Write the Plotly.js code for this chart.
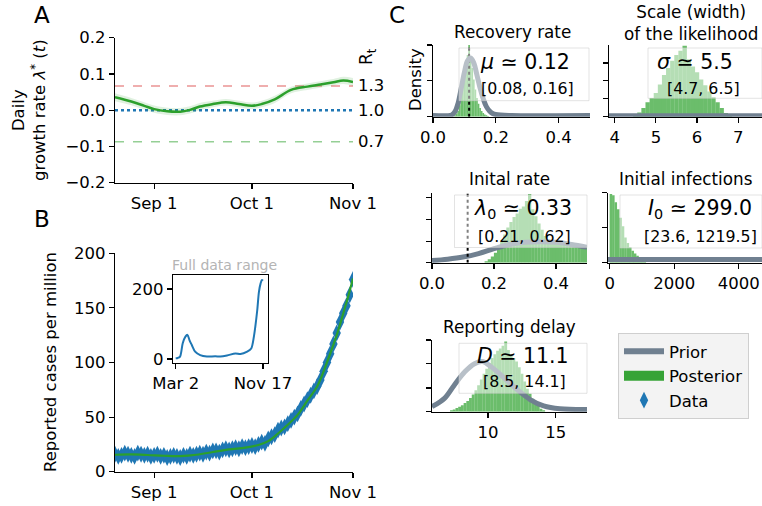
<!DOCTYPE html>
<html><head><meta charset="utf-8">
<script src="https://cdn.plot.ly/plotly-3.0.1.min.js"></script>
<style>html,body{margin:0;padding:0;background:#fff}#chart{width:762px;height:506px}</style>
</head><body><div id="chart"></div>
<script>
const W = 762, H = 506;
const px = v => v / W;
const py = v => 1 - v / H;

// ---------- Panel A: daily growth rate ----------
const aDates = ['2020-08-20','2020-08-25','2020-08-29','2020-09-01','2020-09-05','2020-09-09','2020-09-12','2020-09-15','2020-09-19','2020-09-23','2020-09-27','2020-10-01','2020-10-04','2020-10-08','2020-10-13','2020-10-18','2020-10-22','2020-10-26','2020-10-29','2020-11-01'];
const aRate = [0.036,0.024,0.012,0.003,-0.003,-0.004,0.001,0.010,0.017,0.022,0.017,0.012,0.017,0.030,0.056,0.065,0.071,0.077,0.082,0.078];
const aHigh = [0.047,0.034,0.022,0.013,0.007,0.006,0.011,0.020,0.026,0.031,0.026,0.021,0.026,0.040,0.065,0.074,0.080,0.086,0.092,0.089];
const aLow  = [0.025,0.014,0.002,-0.007,-0.013,-0.014,-0.009,0.000,0.008,0.013,0.008,0.003,0.008,0.020,0.047,0.056,0.062,0.068,0.072,0.067];
const rtLevels = [0.067, 0.0, -0.087];
const rtLabels = ['1.3', '1.0', '0.7'];
const aRange = ['2020-08-20', '2020-11-01'];
const mainTickVals = ['2020-09-01', '2020-10-01', '2020-11-01'];
const mainTickText = ['Sep 1', 'Oct 1', 'Nov 1'];

// ---------- Panel B: reported cases per million ----------
const bStart = '2020-08-20';
const bCases = [16,14,15,17,16,15,14, 17,16,15,16,14,15,16, 14,15,13,14,15,14,13, 15,14,16,15,16,17,16,
                18,17,19,19,18,20,21, 20,21,22,21,23,22,23, 24,23,25,27,26,30,32, 34,38,40,41,44,47,50,
                53,58,62,66,70,74,78, 84,92,100,108,117,127,137, 145,152,162,176];
const bModelDates = ['2020-08-20','2020-08-25','2020-08-30','2020-09-04','2020-09-09','2020-09-14','2020-09-19','2020-09-24','2020-09-29','2020-10-03','2020-10-06','2020-10-09','2020-10-12','2020-10-15','2020-10-18','2020-10-21','2020-10-24','2020-10-27','2020-10-30','2020-11-01'];
const bModel = [15.5,15.8,15.3,14.6,14.3,15.5,18,20.5,22,24.5,28,35,43,52,65,78,100,125,155,177];

// inset: full data range
const insetDates = ['2020-03-02','2020-03-08','2020-03-15','2020-03-23','2020-03-31','2020-04-06','2020-04-12','2020-04-19','2020-04-29','2020-05-14','2020-06-03','2020-06-28','2020-07-13','2020-08-02','2020-08-27','2020-09-11','2020-10-01','2020-10-13','2020-10-21','2020-10-31','2020-11-05','2020-11-10','2020-11-14','2020-11-17'];
const insetCases = [2,3,7,45,64,69,54,40,21,11,7,8,7,10,16,14,21,30,64,140,192,216,226,224];

// ---------- Panel C: posteriors (histograms, relative density) and priors ----------
const recHistX = [0.070,0.075,0.080,0.085,0.090,0.095,0.100,0.105,0.110,0.115,0.120,0.125,0.130,0.135,0.140,0.145,0.150,0.155,0.160,0.165,0.170,0.175];
const recHistY = [0.02,0.04,0.08,0.16,0.30,0.48,0.62,0.74,0.86,1.00,0.80,0.68,0.52,0.38,0.26,0.18,0.12,0.08,0.05,0.03,0.02,0.01];
const recPriorX = [0,0.05,0.06,0.07,0.08,0.09,0.10,0.11,0.12,0.13,0.14,0.15,0.16,0.17,0.18,0.19,0.20,0.25,0.5];
const recPriorY = [0.015,0.015,0.025,0.07,0.19,0.40,0.62,0.78,0.82,0.75,0.58,0.40,0.25,0.14,0.08,0.045,0.03,0.017,0.015];
const muLineX = [0.115, 0.115];

const sigHistX = [4.5,4.6,4.7,4.8,4.9,5.0,5.1,5.2,5.3,5.4,5.5,5.6,5.7,5.8,5.9,6.0,6.1,6.2,6.3,6.4,6.5,6.6,6.7,6.8];
const sigHistY = [0.02,0.06,0.12,0.20,0.26,0.33,0.45,0.58,0.68,0.78,0.86,0.92,0.99,0.80,0.70,0.62,0.52,0.44,0.35,0.27,0.20,0.12,0.05,0.02];
const sigPriorX = [3.5, 8];
const sigPriorY = [0.012, 0.012];

const lamHistX = [0.175,0.185,0.195,0.205,0.215,0.225,0.235,0.245,0.255,0.265,0.275,0.285,0.295,0.305,0.315,0.325,0.335,0.345,0.355,0.365,0.375,0.385,0.395,0.405,0.415,0.425,0.435,0.445,0.455,0.465,0.475,0.485,0.495];
const lamHistY = [0.02,0.05,0.09,0.14,0.21,0.30,0.40,0.50,0.58,0.65,0.70,0.77,0.80,0.88,0.98,0.76,0.66,0.56,0.47,0.38,0.33,0.31,0.30,0.29,0.29,0.28,0.28,0.27,0.27,0.26,0.26,0.25,0.25];
const lamPriorX = [0,0.05,0.1,0.15,0.2,0.25,0.3,0.35,0.4,0.45,0.5];
const lamPriorY = [0.03,0.05,0.08,0.13,0.20,0.26,0.29,0.30,0.29,0.26,0.22];

const infHistX = [37.5,112.5,187.5,262.5,337.5,412.5,487.5,562.5,637.5,712.5,787.5,862.5,937.5,1012.5,1087.5];
const infHistY = [0.98,0.96,0.86,0.76,0.64,0.52,0.36,0.28,0.22,0.17,0.13,0.10,0.07,0.04,0.02];
const infPriorX = [-100, 5000];
const infPriorY = [0.045, 0.045];

const delHistX = [7.3,7.5,7.7,7.9,8.1,8.3,8.5,8.7,8.9,9.1,9.3,9.5,9.7,9.9,10.1,10.3,10.5,10.7,10.9,11.1,11.3,11.5,11.7,11.9,12.1,12.3,12.5,12.7,12.9,13.1,13.3,13.5,13.7,13.9,14.1];
const delHistY = [0.02,0.03,0.05,0.07,0.09,0.12,0.15,0.19,0.24,0.30,0.37,0.45,0.53,0.60,0.68,0.75,0.80,0.85,0.88,0.92,0.98,0.86,0.80,0.75,0.70,0.62,0.53,0.42,0.32,0.25,0.18,0.12,0.08,0.04,0.02];
const delPriorX = [5.86,6.8,7.5,8.3,9.0,9.6,10.2,11.2,12.2,13.1,14.1,15.3,17.3];
const delPriorY = [0.07,0.19,0.37,0.56,0.67,0.70,0.63,0.47,0.30,0.17,0.08,0.04,0.03];

const statMain = ['<i>μ</i> ≃ 0.12', '<i>σ</i> ≃ 5.5', '<i>λ</i><sub>0</sub> ≃ 0.33', '<i>I</i><sub>0</sub> ≃ 299.0', '<i>D</i> ≃ 11.1'];
const statCI = ['[0.08, 0.16]', '[4.7, 6.5]', '[0.21, 0.62]', '[23.6, 1219.5]', '[8.5, 14.1]'];
const cTitles = ['Recovery rate', 'Scale (width)<br>of the likelihood', 'Inital rate', 'Initial infections', 'Reporting delay'];

// ---------- styles ----------
const GREEN = '#2ca02c', BLUE = '#1f77b4', PRIOR = '#708090';
const HISTC = '#6bbd6b';
const FONT = 'DejaVu Sans';
const TF = 16.5;

// daily dates for panel B
const bDates = [];
{
  const t0 = Date.parse(bStart + 'T00:00:00Z');
  for (let i = 0; i < bCases.length; i++) {
    bDates.push(new Date(t0 + i * 86400000).toISOString().slice(0, 10));
  }
}

const traces = [];
// Panel A
rtLevels.forEach((lv, i) => {
  const col = i === 0 ? 'rgba(214,39,40,0.5)' : (i === 1 ? BLUE : 'rgba(44,160,44,0.5)');
  traces.push({type:'scatter', mode:'lines', x:aRange, y:[lv, lv], xaxis:'x', yaxis:'y',
    line:{color:col, width: i === 1 ? 2.6 : 1.5, dash: i === 1 ? 'dot' : 'dash'}, showlegend:false, hoverinfo:'skip'});
});
traces.push({type:'scatter', mode:'lines', x:aDates, y:aHigh, xaxis:'x', yaxis:'y', line:{width:0, shape:'spline'}, showlegend:false, hoverinfo:'skip'});
traces.push({type:'scatter', mode:'lines', x:aDates, y:aLow, xaxis:'x', yaxis:'y', line:{width:0, shape:'spline'}, fill:'tonexty', fillcolor:'rgba(44,160,44,0.15)', showlegend:false, hoverinfo:'skip'});
traces.push({type:'scatter', mode:'lines', x:aDates, y:aRate, xaxis:'x', yaxis:'y', line:{color:GREEN, width:2.5, shape:'spline'}, showlegend:false});

// Panel B
traces.push({type:'scatter', mode:'markers', name:'Data', legendrank:3, x:bDates, y:bCases, xaxis:'x2', yaxis:'y2',
  marker:{symbol:'diamond-tall', size:12, color:BLUE, line:{width:0}}, showlegend:true});
traces.push({type:'scatter', mode:'lines', x:bModelDates, y:bModel, xaxis:'x2', yaxis:'y2', line:{color:GREEN, width:2.2, shape:'spline'}, showlegend:false});
// inset
traces.push({type:'scatter', mode:'lines', x:insetDates, y:insetCases, xaxis:'x3', yaxis:'y3', line:{color:BLUE, width:2, shape:'spline', smoothing:0.8}, showlegend:false});

// Panel C (bars slightly overlap to avoid hairline gaps)
const hist = (x, y, w, n) => ({type:'bar', x:x, y:y, width:w * 1.06, xaxis:'x'+n, yaxis:'y'+n, marker:{color:HISTC, line:{width:0}}, showlegend:false, hoverinfo:'skip'});
const prior = (x, y, n, sp) => ({type:'scatter', mode:'lines', x:x, y:y, xaxis:'x'+n, yaxis:'y'+n, line:{color:PRIOR, width:5, shape: sp ? 'spline' : 'linear'}, showlegend:false, hoverinfo:'skip'});
const dotted = n => ({type:'scatter', mode:'lines', x:muLineX, y:[0, 1], xaxis:'x'+n, yaxis:'y'+n, line:{color:'#000', width:2, dash:'dot'}, showlegend:false, hoverinfo:'skip'});

traces.push(hist(recHistX, recHistY, 0.005, 4));
traces.push(dotted(4));
traces.push(prior(recPriorX, recPriorY, 4, true));
traces.push(hist(sigHistX, sigHistY, 0.1, 5));
traces.push(prior(sigPriorX, sigPriorY, 5, false));
traces.push(hist(lamHistX, lamHistY, 0.01, 6));
traces.push(prior(lamPriorX, lamPriorY, 6, true));
traces.push(dotted(6));
traces.push(hist(infHistX, infHistY, 75, 7));
traces.push(prior(infPriorX, infPriorY, 7, false));
traces.push(hist(delHistX, delHistY, 0.2, 8));
traces.push(prior(delPriorX, delPriorY, 8, true));

// legend-only entries (placed outside visible range)
traces.push({type:'scatter', mode:'lines', name:'Prior', legendrank:1, x:[-2, -1.5], y:[0.5, 0.5], xaxis:'x4', yaxis:'y4', line:{color:PRIOR, width:6}, showlegend:true});
traces.push({type:'scatter', mode:'lines', name:'Posterior', legendrank:2, x:[-2, -1.5], y:[0.5, 0.5], xaxis:'x4', yaxis:'y4', line:{color:'#36a336', width:12}, showlegend:true});

// ---------- axes ----------
const baseAx = {showline:true, linecolor:'#000', linewidth:1.2, ticks:'outside', ticklen:5, tickwidth:1.2, tickcolor:'#000',
  showgrid:false, zeroline:false, tickfont:{size:TF, color:'#000', family:FONT}, fixedrange:true};
const ax = o => Object.assign({}, baseAx, o);

const layout = {
  width: W, height: H, autosize:false,
  margin:{l:0, r:0, t:0, b:0},
  paper_bgcolor:'#fff', plot_bgcolor:'rgba(0,0,0,0)',
  font:{family:FONT, color:'#000', size:TF},
  barmode:'overlay',
  showlegend:true,
  legend:{x:px(618), y:py(333), xanchor:'left', yanchor:'top', bgcolor:'rgba(242,242,242,0.95)', bordercolor:'#cfcfcf', borderwidth:1,
    font:{size:16.5, family:FONT, color:'#000'}, itemwidth:40, traceorder:'normal', tracegroupgap:0},
  // A
  xaxis: ax({domain:[px(115), px(353)], type:'date', range:aRange, tickvals:mainTickVals, ticktext:mainTickText, anchor:'y'}),
  yaxis: ax({domain:[py(182.7), py(37.7)], range:[-0.2, 0.2], tickvals:[-0.2,-0.1,0,0.1,0.2], ticktext:['−0.2','−0.1','0.0','0.1','0.2'], anchor:'x'}),
  // B
  xaxis2: ax({domain:[px(115), px(353)], type:'date', range:aRange, tickvals:mainTickVals, ticktext:mainTickText, anchor:'y2'}),
  yaxis2: ax({domain:[py(471.7), py(253.3)], range:[0, 200], tickvals:[0,50,100,150,200], anchor:'x2'}),
  // inset
  xaxis3: ax({domain:[px(173), px(268)], type:'date', range:['2020-02-23','2020-12-02'], tickvals:['2020-03-02','2020-11-17'], ticktext:['Mar 2','Nov 17'], anchor:'y3', mirror:true}),
  yaxis3: ax({domain:[py(363), py(275)], range:[-11.4, 240], tickvals:[0, 200], anchor:'x3', mirror:true}),
  // C1 recovery
  xaxis4: ax({domain:[px(433), px(590)], range:[0, 0.5], tickvals:[0,0.2,0.4], ticktext:['0.0','0.2','0.4'], anchor:'y4'}),
  yaxis4: ax({domain:[py(116.7), py(45)], range:[0, 1], tickvals:[0,0.5,1], showticklabels:false, anchor:'x4'}),
  // C2 sigma
  xaxis5: ax({domain:[px(609), 1], range:[3.86, 7.58], tickvals:[4,5,6,7], anchor:'y5'}),
  yaxis5: ax({domain:[py(116.7), py(45)], range:[0, 1], tickvals:[0,0.25,0.5,0.75], showticklabels:false, anchor:'x5'}),
  // C3 lambda0
  xaxis6: ax({domain:[px(432), px(587)], range:[0, 0.5], tickvals:[0,0.2,0.4], ticktext:['0.0','0.2','0.4'], anchor:'y6'}),
  yaxis6: ax({domain:[py(262.7), py(192.5)], range:[0, 1], tickvals:[0,0.3,0.62,0.93], showticklabels:false, anchor:'x6'}),
  // C4 I0
  xaxis7: ax({domain:[px(608), 1], range:[-53, 4722], tickvals:[0,2000,4000], anchor:'y7'}),
  yaxis7: ax({domain:[py(262.7), py(192.5)], range:[0, 1], tickvals:[0,0.5,1], showticklabels:false, anchor:'x7'}),
  // C5 delay
  xaxis8: ax({domain:[px(432), px(587)], range:[5.86, 17.3], tickvals:[10,15], anchor:'y8'}),
  yaxis8: ax({domain:[py(411.7), py(340)], range:[0, 1], tickvals:[0,0.33,0.67,1], showticklabels:false, anchor:'x8'}),
  shapes: [],
  annotations: []
};

// semi-transparent text boxes over the histograms
const boxes = [[459,48,589,100.7],[648,48,762,98.3],[454.5,195,587,247.5],[620,195,762,248],[459,343.3,587,393.3]];
boxes.forEach(b => layout.shapes.push({type:'rect', xref:'paper', yref:'paper', x0:px(b[0]), x1:px(b[2]), y0:py(b[3]), y1:py(b[1]),
  fillcolor:'rgba(255,255,255,0.5)', line:{color:'rgba(200,200,200,0.5)', width:1}, layer:'above'}));

const ann = (x, y, text, size, extra) => Object.assign({xref:'paper', yref:'paper', x:px(x), y:py(y), text:text, showarrow:false,
  xanchor:'center', yanchor:'middle', font:{size:size, family:FONT, color:'#000'}}, extra || {});

// panel letters
layout.annotations.push(ann(42, 15, 'A', 23));
layout.annotations.push(ann(42, 219, 'B', 23));
layout.annotations.push(ann(397, 15, 'C', 23));
// axis titles
layout.annotations.push(ann(29, 110, 'Daily<br>growth rate <i>λ</i><sup>*</sup> (<i>t</i>)', TF, {textangle:-90}));
layout.annotations.push(ann(50, 362, 'Reported cases per million', TF, {textangle:-90}));
layout.annotations.push(ann(416, 80, 'Density', TF, {textangle:-90}));
// Rt labels
rtLevels.forEach((lv, i) => layout.annotations.push({xref:'paper', yref:'y', x:px(356), y:lv, text:rtLabels[i], showarrow:false,
  xanchor:'left', yanchor:'middle', font:{size:TF, family:FONT, color:'#000'}}));
layout.annotations.push(ann(367, 57, 'R<sub>t</sub>', 17, {textangle:-90}));
// inset title
layout.annotations.push(ann(224, 265, 'Full data range', 14, {font:{size:14, family:FONT, color:'#b4b4b4'}}));
// C titles
const titlePos = [[512, 32], [691, 23], [509, 179], [685, 179], [509, 327]];
cTitles.forEach((t, i) => layout.annotations.push(ann(titlePos[i][0], titlePos[i][1], t, 16.8)));
// stats
const statPos = [[525, 62, 527, 89], [695, 62, 703, 88], [523, 209, 524, 236], [700, 209, 700, 236], [523, 356, 524, 381]];
statMain.forEach((t, i) => {
  layout.annotations.push(ann(statPos[i][0], statPos[i][1], t, 20.5));
  layout.annotations.push(ann(statPos[i][2], statPos[i][3], statCI[i], 15.8));
});

Plotly.newPlot('chart', traces, layout, {displayModeBar:false, staticPlot:true});
</script>
</body></html>
